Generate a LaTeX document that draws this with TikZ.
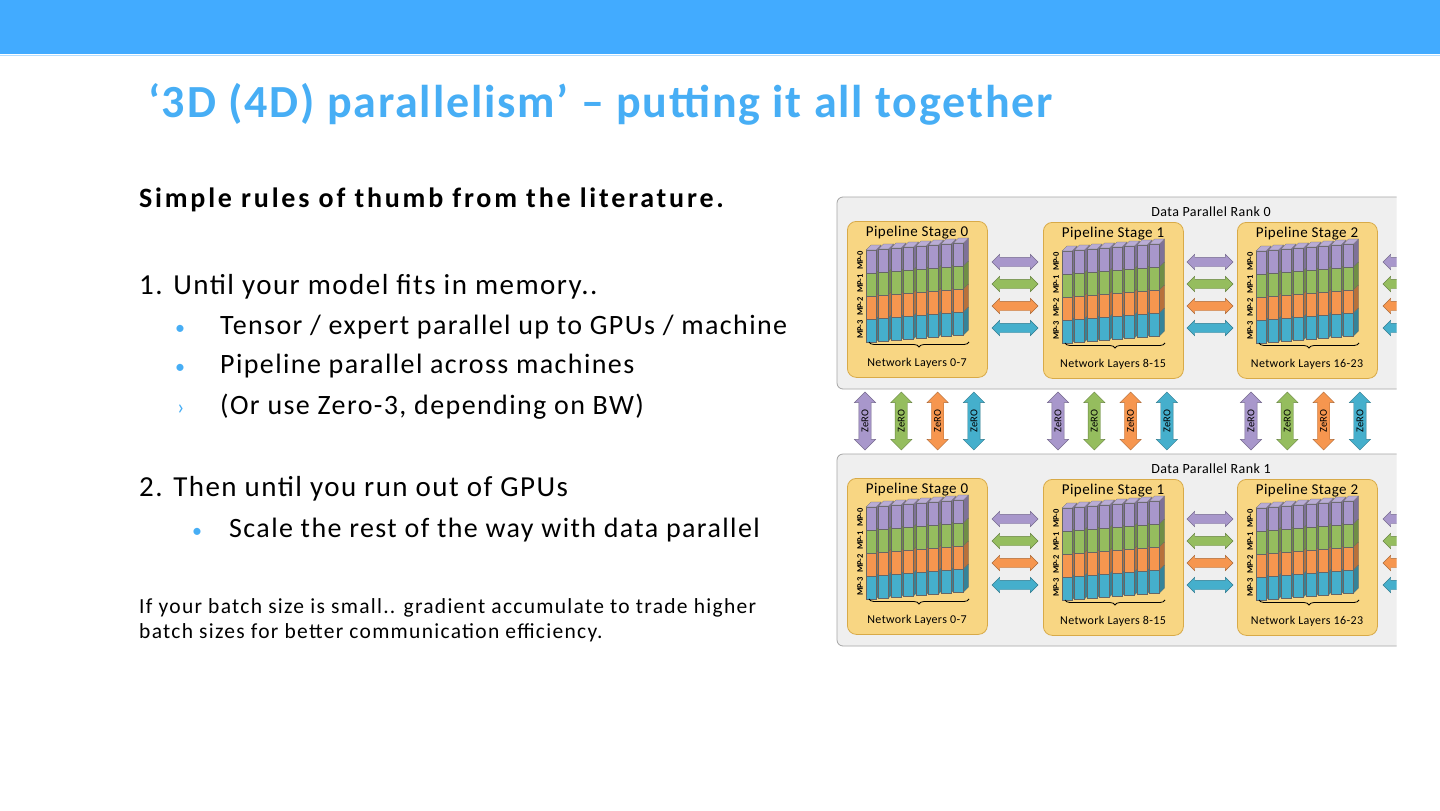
\documentclass[tikz,border=0pt]{standalone}
\usepackage{fontspec}
\setmainfont{Carlito}
\usetikzlibrary{shapes.arrows,decorations.pathreplacing}
\definecolor{barblue}{HTML}{42ABFF}
\definecolor{titleblue}{HTML}{47AEF5}
\definecolor{mpA}{HTML}{A897CB}
\definecolor{mpB}{HTML}{95BD5E}
\definecolor{mpC}{HTML}{F6964F}
\definecolor{mpD}{HTML}{45AFCC}
\definecolor{stagefill}{HTML}{F8D683}
\definecolor{stageline}{HTML}{D8AA48}
\definecolor{rankfill}{HTML}{EFEFEF}

\newcommand\wide[1]{\addfontfeatures{LetterSpace=#1}}

\tikzset{
  rank/.style={rectangle, rounded corners=6pt, draw=gray!70, fill=rankfill, thick},
  stage/.style={rectangle, rounded corners=9pt, draw=stageline, fill=stagefill,
    thick, minimum width=140pt, minimum height=156pt, anchor=north west},
  harrow/.style={double arrow, draw=#1!70!black, fill=#1, thin, inner sep=4.5pt,
    double arrow head extend=3pt, minimum height=46pt},
  zarrow/.style={double arrow, draw=#1!70!black, fill=#1, thin, inner sep=2.5pt,
    double arrow head extend=4.5pt, minimum height=58pt, rotate=90,
    font=\fontsize{10.5}{10.5}\selectfont},
  line/.style={anchor=base west, inner sep=0pt},
}

% one pipeline stage: name, x, y, stage number, layer range
\newcommand\pstage[5]{%
  \node[stage] (#1) at (#2,#3) {};
  \begin{scope}[shift={(#2,#3)}]
    \node[font=\fontsize{15}{15}\selectfont\wide{3}] (#1-title) at (70,12) {Pipeline Stage #4};
    \foreach \i in {0,...,7}{
      \foreach \c [count=\b from 0] in {mpA,mpB,mpC,mpD}{
        \pgfmathsetmacro\xo{19+12.5*\i}
        \pgfmathsetmacro\yo{29-\i+23*\b}
        \filldraw[fill=\c!75!black, draw=black!60, very thin]
          (\xo+10,\yo) -- (\xo+15,\yo-5) -- (\xo+15,\yo+18) -- (\xo+10,\yo+23) -- cycle;
        \filldraw[fill=\c, draw=black!60, very thin]
          (\xo,\yo) rectangle (\xo+10,\yo+23);
        \ifnum\b=0
          \filldraw[fill=\c!80!white, draw=black!60, very thin]
            (\xo,\yo) -- (\xo+5,\yo-5) -- (\xo+15,\yo-5) -- (\xo+10,\yo) -- cycle;
        \fi
      }
    }
    \foreach \b in {0,...,3}
      \node[rotate=90, inner sep=0pt, font=\fontsize{8.5}{8.5}\selectfont\bfseries]
        at (13,39.5+23*\b) {MP-\b};
    \draw[decorate, decoration={brace, mirror, amplitude=5pt}, thick]
      (22,121) -- (122,121);
    \node[font=\fontsize{12}{12}\selectfont\wide{3}] (#1-layers) at (70,142) {Network Layers #5};
  \end{scope}
}

\begin{document}
\begin{tikzpicture}[x=1pt, y=-1pt]
  \useasboundingbox (0,0) rectangle (1440,811);
  \fill[white] (0,0) rectangle (1440,811);
  \fill[barblue] (0,0) rectangle (1440,54);
  \draw[barblue!40] (0,55) -- (1440,55);

  % text column
  \node[line, text=titleblue, font=\fontsize{46}{46}\selectfont\bfseries\wide{4}]
    (title) at (148,117) {‘3D (4D) parallelism’ – putting it all together};
  \node[line, font=\fontsize{28}{28}\selectfont\bfseries\wide{10}]
    (rules) at (139,207) {Simple rules of thumb from the literature.};
  \node[line, font=\fontsize{29}{29}\selectfont\wide{5}] (step1) at (139,294) {1. Until your model fits in memory..};
  \node[line, font=\fontsize{28}{28}\selectfont\wide{5}] (tensor) at (220,334) {Tensor / expert parallel up to GPUs / machine};
  \node[line, font=\fontsize{28}{28}\selectfont\wide{5}] (pipe) at (220,373) {Pipeline parallel across machines};
  \node[line, font=\fontsize{28}{28}\selectfont\wide{5}] (zero) at (220,414) {(Or use Zero-3, depending on BW)};
  \node[line, font=\fontsize{29}{29}\selectfont\wide{5}] (step2) at (139,496) {2. Then until you run out of GPUs};
  \node[line, font=\fontsize{28}{28}\selectfont\wide{5}] (scale) at (229,537) {Scale the rest of the way with data parallel};
  \node[line, font=\fontsize{21.5}{21.5}\selectfont\wide{6}] (batchA) at (139,613) {If your batch size is small.. gradient accumulate to trade higher};
  \node[line, font=\fontsize{21.5}{21.5}\selectfont\wide{6}] (batchB) at (139,638) {batch sizes for better communication efficiency.};
  \foreach \y in {334,373}
    \node[line, text=titleblue, font=\fontsize{20}{20}\selectfont] at (175,\y) {•};
  \node[line, text=titleblue, font=\fontsize{22}{22}\selectfont] at (177,414) {›};
  \node[line, text=titleblue, font=\fontsize{20}{20}\selectfont] at (192,537) {•};

  % diagram
  \begin{scope}
    \clip (830,190) rectangle (1396.5,650);
    \foreach \r/\y in {0/0,1/257}{
      \begin{scope}[yshift=-\y]
        \draw[rank] (837,197) rectangle (1460,389);
        \node[font=\fontsize{14}{14}\selectfont\wide{3}] (rank\r) at (1211,212) {Data Parallel Rank \r};
        \pstage{s\r a}{847}{221}{0}{0-7}
        \pstage{s\r b}{1043}{222}{1}{8-15}
        \pstage{s\r c}{1237}{222}{2}{16-23}
        \foreach \c [count=\k from 0] in {mpA,mpB,mpC,mpD}{
          \node[harrow=\c] at (1015,262+22*\k) {};
          \node[harrow=\c] at (1210,262+22*\k) {};
          \node[harrow=\c] at (1406,262+22*\k) {};
        }
      \end{scope}
    }
    \foreach \x in {865,1058,1251}
      \foreach \c [count=\k from 0] in {mpA,mpB,mpC,mpD}
        \node[zarrow=\c] at (\x+36.3*\k,421) {ZeRO};
  \end{scope}
\end{tikzpicture}
\end{document}
